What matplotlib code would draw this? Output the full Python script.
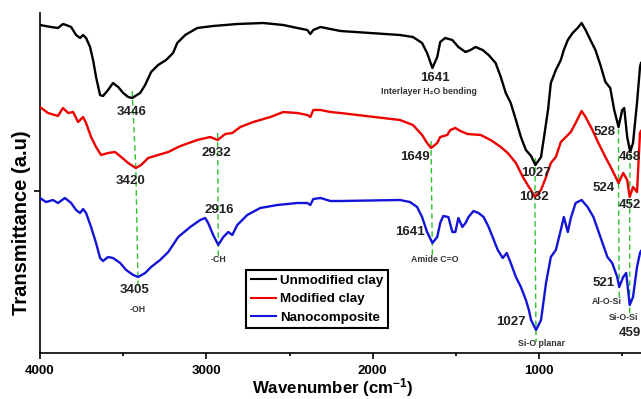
#!/usr/bin/env python3
"""FTIR spectra: unmodified clay, modified clay and nanocomposite."""

import numpy as np
import matplotlib
matplotlib.use("Agg")
import matplotlib.pyplot as plt

plt.rcParams['font.family'] = ['Liberation Sans', 'DejaVu Sans']
plt.rcParams['font.weight'] = 'bold'
plt.rcParams['mathtext.fontset'] = 'custom'
plt.rcParams['mathtext.rm'] = 'Liberation Sans:bold'
plt.rcParams['mathtext.bf'] = 'Liberation Sans:bold'
plt.rcParams['mathtext.default'] = 'bf'

# --- data (wavenumber in cm-1, transmittance in arbitrary units, curves offset) ---
wn_unmod = [4000, 3934, 3892, 3862, 3843, 3813, 3783, 3759, 3741, 3723, 3699, 3681,
            3663, 3639, 3621, 3591, 3561, 3530, 3500, 3470, 3446, 3398, 3368, 3332,
            3290, 3242, 3200, 3175, 3127, 3055, 2959, 2814, 2658, 2537, 2453, 2393,
            2375, 2357, 2314, 2254, 2194, 1836, 1758, 1703, 1673, 1641, 1612, 1594,
            1564, 1521, 1485, 1442, 1412, 1382, 1339, 1303, 1261, 1230, 1200, 1170,
            1139, 1109, 1079, 1048, 1022, 988, 970, 946, 929, 899, 869, 851, 827,
            798, 768, 744, 720, 691, 661, 631, 601, 572, 548, 522, 500, 488, 470,
            452, 435, 411, 393, 387]
t_unmod = [328, 326, 325, 329, 328, 326, 318, 315, 318, 315, 306, 293,
           276, 258, 257, 263, 270, 266, 260, 256, 255, 260, 268, 281,
           288, 293, 300, 310, 318, 325, 327, 329, 330, 328, 325, 323,
           319, 323, 326, 324, 322, 318, 316, 310, 300, 285, 296, 311,
           315, 313, 306, 301, 303, 306, 303, 298, 290, 276, 260, 250,
           233, 216, 203, 197, 188, 196, 216, 243, 270, 283, 293, 303, 313,
           320, 325, 330, 323, 313, 303, 288, 271, 265, 243, 226, 243, 245, 216,
           201, 210, 250, 286, 290]

wn_mod = [4000, 3952, 3892, 3862, 3831, 3801, 3771, 3741, 3723, 3693, 3663, 3633,
          3591, 3549, 3512, 3470, 3424, 3392, 3350, 3290, 3229, 3169, 3139, 3055,
          2977, 2932, 2886, 2844, 2796, 2718, 2615, 2537, 2453, 2393, 2375, 2357,
          2314, 2254, 2194, 1836, 1758, 1703, 1673, 1649, 1612, 1594, 1552, 1533,
          1503, 1473, 1430, 1351, 1291, 1230, 1188, 1139, 1097, 1061, 1048, 1025,
          988, 958, 929, 899, 869, 839, 809, 780, 744, 720, 679, 643, 601, 560,
          522, 494, 470, 455, 435, 411, 393, 387]
t_mod = [246, 240, 237, 245, 240, 241, 231, 236, 230, 216, 206, 198,
         200, 201, 196, 190, 185, 188, 195, 198, 201, 206, 208, 213,
         216, 213, 219, 220, 226, 231, 236, 241, 240, 238, 236, 243,
         243, 241, 240, 233, 228, 218, 210, 205, 210, 216, 218, 223,
         225, 222, 219, 218, 213, 206, 200, 190, 176, 166, 163, 156,
         163, 176, 190, 196, 211, 216, 221, 230, 242, 236, 223, 210, 196, 183,
         170, 180, 173, 156, 166, 161, 220, 222]

wn_nano = [4000, 3964, 3922, 3892, 3850, 3813, 3783, 3759, 3741, 3723, 3693, 3663,
           3639, 3621, 3591, 3561, 3518, 3482, 3440, 3410, 3368, 3332, 3278, 3229,
           3169, 3097, 3037, 3007, 2989, 2959, 2928, 2898, 2868, 2844, 2814, 2754,
           2676, 2573, 2453, 2393, 2375, 2357, 2314, 2254, 2194, 1836, 1776, 1733,
           1703, 1673, 1641, 1612, 1594, 1576, 1545, 1521, 1503, 1485, 1461, 1442,
           1424, 1394, 1364, 1333, 1303, 1279, 1248, 1218, 1194, 1170, 1139, 1109,
           1079, 1061, 1048, 1018, 988, 958, 929, 899, 869, 851, 827, 809, 780,
           744, 708, 673, 631, 589, 560, 530, 518, 494, 476, 455, 435, 411, 393, 387]
t_nano = [155, 151, 153, 150, 155, 150, 143, 140, 144, 140, 126, 110,
          95, 92, 96, 95, 90, 83, 78, 76, 80, 86, 93, 101,
          116, 126, 133, 135, 130, 118, 108, 116, 121, 118, 128, 138,
          145, 148, 150, 150, 148, 154, 155, 152, 152, 153, 151, 146,
          136, 121, 110, 116, 130, 137, 136, 121, 121, 135, 126, 130,
          136, 142, 140, 136, 126, 116, 103, 95, 100, 90, 76, 66,
          53, 43, 33, 23, 33, 70, 96, 103, 123, 136, 121, 135, 150,
          153, 146, 136, 116, 96, 90, 76, 66, 76, 80, 48, 56, 86, 100, 102]

series_names = ["Unmodified clay", "Modified clay", "Nanocomposite"]
series_colors = ["black", "#ee0000", "#1414d8"]

# peak labels: (text, wavenumber, transmittance position)
peak_labels = [
    ("3446", 3448, 241), ("3420", 3454, 172), ("3405", 3430, 63),
    ("2932", 2938, 200), ("2916", 2920, 143),
    ("1641", 1625, 275), ("1649", 1746, 196), ("1641", 1776, 121),
    ("1027", 1018, 180), ("1032", 1030, 156), ("1027", 1170, 31),
    ("528", 608, 221), ("524", 613, 165), ("521", 613, 70),
    ("468", 389, 196), ("452", 389, 148), ("459", 389, 20),
]
band_labels = [
    ("-OH", 3412, 43), ("-CH", 2926, 93),
    ("Interlayer H\u2082O bending", 1661, 261),
    ("Amide C=O", 1625, 93), ("Si-O planar", 988, 10),
    ("Al-O-Si", 590, 51), ("Si-O-Si", 494, 35),
]
# guide lines through matching bands: (unmod wn or None, mod wn, nano wn)
guides = [(3446, 3424, 3410), (None, 2932, 2928), (None, 1649, 1641),
          (1022, 1025, 1018), (522, 522, 518), (452, 455, 455)]

fig = plt.figure(figsize=(6.41, 3.99), dpi=100)
ax = fig.add_axes([40 / 641, 1 - 353 / 399, 601 / 641, 340 / 399])

curves = [(wn_unmod, t_unmod), (wn_mod, t_mod), (wn_nano, t_nano)]
for (wn, t), name, col in zip(curves, series_names, series_colors):
    ax.plot(wn, t, color=col, lw=1.7, label=name, zorder=3)

# green dashed guides, from the top curve down past the nanocomposite dip
for g_un, g_mod, g_nano in guides:
    xs, ys = [], []
    if g_un is not None:
        xs.append(g_un)
        ys.append(np.interp(g_un, wn_unmod[::-1], t_unmod[::-1]) + 7)
    else:
        xs.append(g_mod)
        ys.append(np.interp(g_mod, wn_mod[::-1], t_mod[::-1]) + 7)
    xs.append(g_mod)
    ys.append(np.interp(g_mod, wn_mod[::-1], t_mod[::-1]))
    xs.append(g_nano)
    ys.append(np.interp(g_nano, wn_nano[::-1], t_nano[::-1]) - 12)
    ax.plot(xs, ys, color="#2fc42f", lw=1.0, ls=(0, (4, 2.5)), zorder=2)

for txt, x, y in peak_labels:
    ha = "right" if x < 400 else "center"
    ax.text(x, y, txt, ha=ha, va="center", fontsize=9.5,
            fontweight="bold", color="#222222", clip_on=False)
for txt, x, y in band_labels:
    ax.text(x, y, txt, ha="center", va="center", fontsize=6.3,
            fontweight="bold", color="#333333")

ax.set_xlim(4000, 387)
ax.set_ylim(0, 340)
ax.set_xticks([4000, 3000, 2000, 1000])
ax.set_xticks([3500, 2500, 1500, 500], minor=True)
ax.set_yticks([162])
ax.set_yticklabels([])
ax.tick_params(axis="both", which="major", length=4.5, width=1.2, pad=4,
               labelsize=9.5)
ax.tick_params(axis="x", which="minor", length=2.5, width=1.2)
for lab in ax.get_xticklabels():
    lab.set_fontweight("bold")
for side in ("top", "right"):
    ax.spines[side].set_visible(False)
for side in ("left", "bottom"):
    ax.spines[side].set_linewidth(1.2)

leg = ax.legend(loc="upper left", bbox_to_anchor=(0.343, 0.244),
                borderaxespad=0, fancybox=False,
                handlelength=1.9, handletextpad=0.3, labelspacing=0.45,
                borderpad=0.35, prop={"weight": "bold", "size": 9.6})
leg.get_frame().set_edgecolor("black")
leg.get_frame().set_linewidth(1.5)
leg.get_frame().set_alpha(1)
for line in leg.get_lines():
    line.set_linewidth(1.5)

fig.text(22 / 641, 1 - 223 / 399, "Transmittance (a.u)", rotation=90,
         ha="center", va="center", fontsize=14.5, fontweight="bold")
fig.text(333 / 641, 1 - 393 / 399, "Wavenumber (cm$^{-1}$)", ha="center",
         va="baseline", fontsize=12.2, fontweight="bold")

fig.savefig("out.png", dpi=100)
